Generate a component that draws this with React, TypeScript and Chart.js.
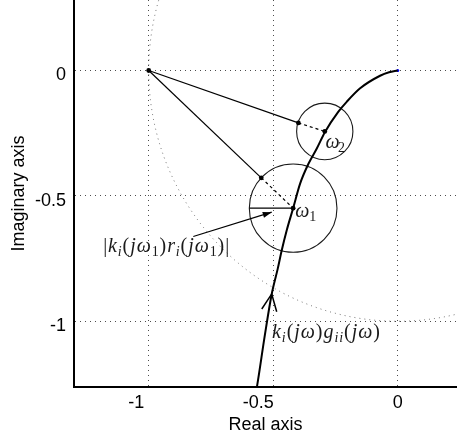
import React, { useEffect, useRef } from 'react';
import { Chart, registerables } from 'chart.js';

Chart.register(...registerables);

// ---- axes ----
const xRange = [-1.3, 0.238];
const yRange = [-1.262, 0.281];
const xTicks = [-1, -0.5, 0];
const yTicks = [-1, -0.5, 0];
const xTickLabels = ['-1', '-0.5', '0'];
const yTickLabels = ['-1', '-0.5', '0'];
const xTitle = 'Real axis';
const yTitle = 'Imaginary axis';

// ---- Nyquist curve k_i(jw) g_ii(jw) ----
const curveRe = [0, -0.035, -0.071, -0.151, -0.205, -0.239, -0.292, -0.325, -0.358, -0.392, -0.42, -0.446, -0.466, -0.482, -0.506, -0.533, -0.566, -0.573];
const curveIm = [0, -0.007, -0.021, -0.071, -0.125, -0.165, -0.245, -0.311, -0.371, -0.451, -0.549, -0.638, -0.718, -0.791, -0.891, -1.051, -1.265, -1.3];

// ---- circles: unit circle, disc at w1, disc at w2 ----
const circleRe = [0, -0.42, -0.293];
const circleIm = [0, -0.549, -0.243];
const circleR = [1, 0.176, 0.113];

// ---- special points ----
const criticalPoint = [-1, 0];
const omega1Point = [-0.42, -0.549];
const omega2Point = [-0.293, -0.243];
const touch1Point = [-0.548, -0.428];
const touch2Point = [-0.399, -0.209];
const radius1End = [-0.596, -0.549];

// ---- annotation arrow and direction chevron ----
const labelArrowFrom = [-0.821, -0.662];
const labelArrowTo = [-0.506, -0.565];
const chevronRe = [-0.546, -0.506, -0.486];
const chevronIm = [-0.951, -0.891, -0.962];

// ---- text labels (anchor = left / baseline, in data units) ----
const labelAnchorsRe = [-1.183, -0.505, -0.412, -0.29];
const labelAnchorsIm = [-0.7246, -1.065, -0.5836, -0.308];
type Part = [string, string];
const labelParts: Part[][] = [
  [['|', 'r'], ['k', 'i'], ['i', 'si'], ['(', 'r'], ['j', 'i'], ['ω', 'i'], ['1', 'sr'], [')', 'r'], ['r', 'i'], ['i', 'si'], ['(', 'r'], ['j', 'i'], ['ω', 'i'], ['1', 'sr'], [')', 'r'], ['|', 'r']],
  [['k', 'i'], ['i', 'si'], ['(', 'r'], ['j', 'i'], ['ω', 'i'], [')', 'r'], ['g', 'i'], ['i', 'si'], ['i', 'si'], ['(', 'r'], ['j', 'i'], ['ω', 'i'], [')', 'r']],
  [['ω', 'i'], ['1', 'sr']],
  [['ω', 'i'], ['2', 'sr']],
];
const labelWidthsPx = [126, 108, 21, 19.5];
const labelSizes = [20, 20, 20, 20];

const pts = (re: number[], im: number[]) => re.map((v, i) => ({ x: v, y: im[i] }));
const seg = (a: number[], b: number[]) => [{ x: a[0], y: a[1] }, { x: b[0], y: b[1] }];

function drawMath(ctx: CanvasRenderingContext2D, parts: Part[], x0: number, base: number, size: number, target: number) {
  const fontFor = (k: string) => {
    const sub = k.startsWith('s');
    const it = k.endsWith('i');
    const sz = sub ? size * 0.7 : size;
    return `${it ? 'italic ' : ''}${sz}px "Liberation Serif", "DejaVu Serif", serif`;
  };
  const widths = parts.map(([t, k]) => {
    ctx.font = fontFor(k);
    return ctx.measureText(t).width;
  });
  const natural = widths.reduce((a, b) => a + b, 0);
  const gap = parts.length > 1 ? (target - natural) / (parts.length - 1) : 0;
  let x = x0;
  parts.forEach(([t, k], i) => {
    ctx.font = fontFor(k);
    const dy = k.startsWith('s') ? size * 0.2 : 0;
    ctx.fillText(t, x, base + dy);
    x += widths[i] + gap;
  });
}

const overlayPlugin = {
  id: 'overlay',
  beforeDatasetsDraw(chart: any) {
    const { ctx, chartArea, scales } = chart;
    const xs = scales.x, ys = scales.y;
    ctx.save();
    ctx.beginPath();
    ctx.rect(chartArea.left, chartArea.top, chartArea.right - chartArea.left, chartArea.bottom - chartArea.top);
    ctx.clip();
    circleR.forEach((r, i) => {
      const cx = xs.getPixelForValue(circleRe[i]);
      const cy = ys.getPixelForValue(circleIm[i]);
      const rx = Math.abs(xs.getPixelForValue(circleRe[i] + r) - cx);
      const ry = Math.abs(ys.getPixelForValue(circleIm[i] + r) - cy);
      ctx.beginPath();
      ctx.ellipse(cx, cy, rx, ry, 0, 0, Math.PI * 2);
      if (i === 0) {
        ctx.setLineDash([1, 4]);
        ctx.strokeStyle = 'rgba(0,0,0,0.55)';
        ctx.lineWidth = 1;
      } else {
        ctx.setLineDash([]);
        ctx.strokeStyle = '#1a1a1a';
        ctx.lineWidth = 1.1;
      }
      ctx.stroke();
    });
    ctx.restore();
  },
  afterDatasetsDraw(chart: any) {
    const { ctx, scales } = chart;
    const xs = scales.x, ys = scales.y;
    ctx.save();
    // filled arrow head of annotation arrow
    const x1 = xs.getPixelForValue(labelArrowFrom[0]);
    const y1 = ys.getPixelForValue(labelArrowFrom[1]);
    const x2 = xs.getPixelForValue(labelArrowTo[0]);
    const y2 = ys.getPixelForValue(labelArrowTo[1]);
    const ang = Math.atan2(y2 - y1, x2 - x1);
    const L = 9, W = 3;
    ctx.beginPath();
    ctx.moveTo(x2, y2);
    ctx.lineTo(x2 - L * Math.cos(ang) + W * Math.sin(ang), y2 - L * Math.sin(ang) - W * Math.cos(ang));
    ctx.lineTo(x2 - L * Math.cos(ang) - W * Math.sin(ang), y2 - L * Math.sin(ang) + W * Math.cos(ang));
    ctx.closePath();
    ctx.fillStyle = '#000';
    ctx.fill();
    // math labels
    ctx.fillStyle = '#1a1a1a';
    ctx.textAlign = 'left';
    ctx.textBaseline = 'alphabetic';
    labelParts.forEach((parts, i) => {
      drawMath(ctx, parts, xs.getPixelForValue(labelAnchorsRe[i]), ys.getPixelForValue(labelAnchorsIm[i]), labelSizes[i], labelWidthsPx[i]);
    });
    ctx.restore();
  },
};

const sansFont = { family: '"Liberation Sans", Arial, Helvetica, sans-serif', size: 18 };

export default function App() {
  const ref = useRef<HTMLCanvasElement | null>(null);
  useEffect(() => {
    if (!ref.current) return;
    const thin = { showLine: true, pointRadius: 0, borderColor: '#000', borderWidth: 1.2, fill: false };
    const chart = new Chart(ref.current, {
      type: 'scatter',
      data: {
        datasets: [
          { ...thin, data: seg(criticalPoint, touch2Point) },
          { ...thin, data: seg(touch2Point, omega2Point), borderDash: [3, 3] },
          { ...thin, data: seg(criticalPoint, touch1Point) },
          { ...thin, data: seg(touch1Point, omega1Point), borderDash: [3, 3] },
          { ...thin, data: seg(radius1End, omega1Point) },
          { ...thin, data: seg(labelArrowFrom, labelArrowTo) },
          { ...thin, data: pts(chevronRe, chevronIm), borderWidth: 1.5 },
          { showLine: true, pointRadius: 0, borderColor: '#000', borderWidth: 2, cubicInterpolationMode: 'monotone', data: pts(curveRe, curveIm) },
          { showLine: false, pointRadius: 1.5, pointBackgroundColor: '#0000ff', pointBorderWidth: 0, data: [{ x: curveRe[0], y: curveIm[0] }] },
          {
            showLine: false, pointRadius: 2.4, pointBackgroundColor: '#000', pointBorderWidth: 0,
            data: [criticalPoint, touch1Point, touch2Point, omega1Point, omega2Point].map((p) => ({ x: p[0], y: p[1] })),
          },
        ] as any,
      },
      options: {
        animation: false,
        responsive: true,
        maintainAspectRatio: false,
        layout: { padding: 0, autoPadding: false },
        plugins: { legend: { display: false }, tooltip: { enabled: false } },
        scales: {
          x: {
            type: 'linear',
            min: xRange[0],
            max: xRange[1],
            afterBuildTicks: (s: any) => { s.ticks = xTicks.map((v) => ({ value: v })); },
            afterFit: (s: any) => { s.height = 56; s.paddingLeft = 0; s.paddingRight = 0; s.paddingTop = 0; s.paddingBottom = 0; },
            grid: { color: 'rgba(0,0,0,0.7)', lineWidth: 1, drawTicks: false },
            border: { display: true, color: '#000', width: 2, dash: [1, 4] },
            ticks: {
              padding: 5,
              color: '#000',
              font: sansFont,
              maxRotation: 0,
              autoSkip: false,
              callback: (v: any) => {
                const i = xTicks.indexOf(Number(v));
                const pad = [5, 6, 0][i] || 0;
                return xTickLabels[i] + ' '.repeat(pad);
              },
            },
            title: { display: true, text: xTitle, color: '#000', font: sansFont, padding: { top: 0, bottom: 7 } },
          },
          y: {
            type: 'linear',
            min: yRange[0],
            max: yRange[1],
            afterBuildTicks: (s: any) => { s.ticks = yTicks.map((v) => ({ value: v })); },
            afterFit: (s: any) => { s.width = 74; s.paddingLeft = 0; s.paddingRight = 0; s.paddingTop = 0; s.paddingBottom = 0; },
            grid: { color: 'rgba(0,0,0,0.7)', lineWidth: 1, drawTicks: false },
            border: { display: true, color: '#000', width: 2, dash: [1, 4] },
            ticks: {
              padding: 8,
              labelOffset: 5,
              color: '#000',
              font: sansFont,
              autoSkip: false,
              callback: (v: any) => yTickLabels[yTicks.indexOf(Number(v))],
            },
            title: { display: true, text: yTitle, color: '#000', font: sansFont, padding: { top: 8, bottom: 0 } },
          },
        },
      } as any,
      plugins: [overlayPlugin],
    });
    return () => chart.destroy();
  }, []);
  return (
    <div style={{ position: 'fixed', left: 0, top: 0, width: 457, height: 443, background: '#fff' }}>
      <canvas ref={ref} />
    </div>
  );
}
